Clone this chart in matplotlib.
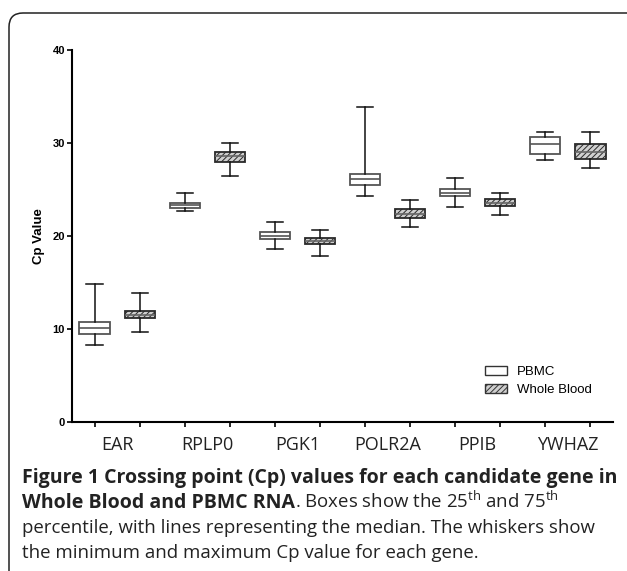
import matplotlib
matplotlib.use("Agg")
import matplotlib.pyplot as plt
from matplotlib.patches import Patch, FancyBboxPatch
import numpy as np

genes = ["EAR", "RPLP0", "PGK1", "POLR2A", "PPIB", "YWHAZ"]
groups = ["PBMC", "Whole Blood"]

# Cp values, order: EAR, RPLP0, PGK1, POLR2A, PPIB, YWHAZ
pbmc_min = [8.3, 22.7, 18.6, 24.3, 23.15, 28.2]
pbmc_q1 = [9.5, 23.0, 19.65, 25.5, 24.3, 28.8]
pbmc_med = [10.15, 23.35, 20.0, 26.1, 24.65, 29.9]
pbmc_q3 = [10.7, 23.6, 20.4, 26.7, 25.1, 30.6]
pbmc_max = [14.8, 24.6, 21.5, 33.9, 26.2, 31.2]

wb_min = [9.7, 26.4, 17.9, 21.0, 22.25, 27.35]
wb_q1 = [11.15, 28.0, 19.1, 21.9, 23.2, 28.25]
wb_med = [11.5, 28.6, 19.45, 22.4, 23.6, 29.0]
wb_q3 = [11.9, 29.0, 19.75, 22.85, 24.0, 29.85]
wb_max = [13.9, 30.0, 20.6, 23.9, 24.65, 31.15]

yticks = [0, 10, 20, 30, 40]

plt.rcParams["hatch.color"] = "#3a3a3a"
plt.rcParams["hatch.linewidth"] = 0.7
plt.rcParams["mathtext.fontset"] = "custom"
plt.rcParams["mathtext.rm"] = "Open Sans"

fig = plt.figure(figsize=(6.27, 5.71), dpi=100)
ax = fig.add_axes([72 / 627, 1 - 422 / 571, 541 / 627, 372 / 571])


def make_stats(lo, q1, med, q3, hi):
    return [dict(whislo=a, q1=b, med=c, q3=d, whishi=e, fliers=[])
            for a, b, c, d, e in zip(lo, q1, med, q3, hi)]


pos_pbmc = np.arange(len(genes)) * 2
pos_wb = pos_pbmc + 1

ax.bxp(make_stats(pbmc_min, pbmc_q1, pbmc_med, pbmc_q3, pbmc_max),
       positions=pos_pbmc, widths=0.67, capwidths=0.36, patch_artist=True,
       boxprops=dict(facecolor="white", edgecolor="#555555", linewidth=1.3),
       medianprops=dict(color="#555555", linewidth=1.2),
       whiskerprops=dict(color="#111111", linewidth=1.1),
       capprops=dict(color="#111111", linewidth=1.1))
ax.bxp(make_stats(wb_min, wb_q1, wb_med, wb_q3, wb_max),
       positions=pos_wb, widths=0.67, capwidths=0.36, patch_artist=True,
       boxprops=dict(facecolor="#cfcfcf", edgecolor="#2a2a2a", linewidth=1.3,
                     hatch="//////"),
       medianprops=dict(color="#666666", linewidth=1.2),
       whiskerprops=dict(color="#111111", linewidth=1.1),
       capprops=dict(color="#111111", linewidth=1.1))

ax.set_xlim(-0.5, 11.5)
ax.set_ylim(0, 40)
for s in ["top", "right"]:
    ax.spines[s].set_visible(False)
ax.spines["left"].set_linewidth(1.5)
ax.spines["bottom"].set_linewidth(1.5)

ax.set_yticks(yticks)
ax.set_yticklabels([str(v) for v in yticks], fontfamily="Liberation Sans",
                   fontweight="bold", fontsize=8)
ax.tick_params(axis="y", length=3.6, width=1.2, pad=1.5)

ax.set_xticks(np.arange(12))
ax.set_xticklabels([])
ax.tick_params(axis="x", which="major", length=3.6, width=1.2)
ax.set_xticks(pos_pbmc + 0.5, minor=True)
ax.set_xticklabels(genes, minor=True, fontfamily="Open Sans", fontsize=13,
                   color="#222222")
ax.tick_params(axis="x", which="minor", length=0, pad=10)

ax.set_ylabel("Cp Value", fontfamily="Liberation Sans", fontweight="bold",
              fontsize=9.5, labelpad=5)

handles = [Patch(facecolor="white", edgecolor="#333333", linewidth=1.0),
           Patch(facecolor="#cfcfcf", edgecolor="#333333", linewidth=1.0,
                 hatch="//////")]
ax.legend(handles, groups, loc="upper left", bbox_to_anchor=(485 / 627, 1 - 366 / 571),
          bbox_transform=fig.transFigure, frameon=False, borderpad=0,
          borderaxespad=0, handlelength=1.7, handleheight=0.7,
          handletextpad=0.75, labelspacing=0.45,
          prop=dict(family="Liberation Sans", size=9.5))

# frame around figure panel
frame = FancyBboxPatch((9, -60), 720, 571 - 13 + 60,
                       boxstyle="round,pad=0,rounding_size=14",
                       transform=None, facecolor="none", edgecolor="#222222",
                       linewidth=1.1)
fig.add_artist(frame)

# caption
bold_size = 14
reg_size = 13.4
cap_color = "#222222"
x0 = 22 / 627
fig.text(x0, 1 - 483 / 571,
         "Figure 1 Crossing point (Cp) values for each candidate gene in",
         fontfamily="Open Sans", fontweight="bold", fontsize=bold_size,
         color=cap_color, va="baseline")
t_bold = fig.text(x0, 1 - 508 / 571, "Whole Blood and PBMC RNA",
                  fontfamily="Open Sans", fontweight="bold", fontsize=bold_size,
                  color=cap_color, va="baseline")
fig.canvas.draw()
bb = t_bold.get_window_extent(fig.canvas.get_renderer())
fig.text(bb.x1 / fig.bbox.width, 1 - 508 / 571,
         r". Boxes show the 25$^{\mathrm{th}}$ and 75$^{\mathrm{th}}$",
         fontfamily="Open Sans", fontsize=reg_size, color=cap_color, va="baseline")
fig.text(x0, 1 - 533 / 571,
         "percentile, with lines representing the median. The whiskers show",
         fontfamily="Open Sans", fontsize=reg_size, color=cap_color, va="baseline")
fig.text(x0, 1 - 558 / 571,
         "the minimum and maximum Cp value for each gene.",
         fontfamily="Open Sans", fontsize=reg_size, color=cap_color, va="baseline")

fig.savefig("out.png", dpi=100)
